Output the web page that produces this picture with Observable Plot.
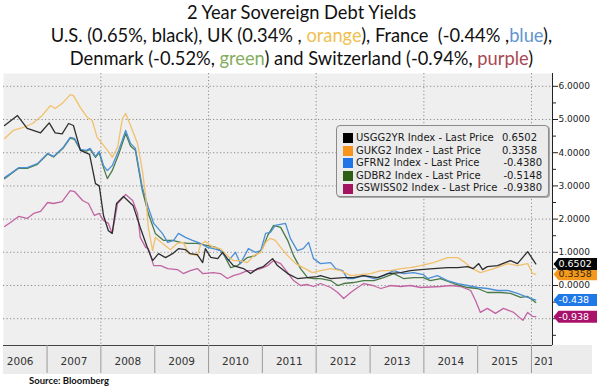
<!DOCTYPE html>
<html><head><meta charset="utf-8">
<script src="https://cdn.jsdelivr.net/npm/d3@7"></script>
<script src="https://cdn.jsdelivr.net/npm/@observablehq/plot@0.6"></script>
<style>
body{margin:0;background:#fff;width:597px;height:387px;overflow:hidden;position:relative;font-family:Lato,sans-serif}
#title{height:72px;text-align:center;line-height:23px;font-size:18.3px;color:#111;padding-left:6px;padding-top:1px;box-sizing:border-box;white-space:nowrap}
#chart{position:absolute;left:0;top:72px}
#legend{position:absolute;left:336px;top:125px;width:213px;height:72px;background:#ebebeb;border:1px solid #8a8a8a;border-radius:4px;box-shadow:1px 1px 0 #aaa;box-sizing:border-box;padding:6px 0 0 6px;font-family:"DejaVu Sans",sans-serif;font-size:10px;color:#1a1a1a}
#legend .row{height:12.6px;line-height:12.6px;display:flex;align-items:center;white-space:nowrap}
#legend .sw{width:10px;height:10px;margin-right:3px;flex:none}
#legend .nm{flex:1}
#legend .vl{text-align:right}
#source{position:absolute;left:29px;top:375px;font-weight:bold;font-size:9.5px;color:#111}
</style></head>
<body>
<div id="title"></div>
<div id="chart"></div>
<div id="legend"></div>
<div id="source">Source: Bloomberg</div>
<script>
// ---- data (decimal year, yield %) ----
const usSeries = [[2006.21,4.82],[2006.45,5.12],[2006.63,4.73],[2006.88,4.6],[2007.04,4.9],[2007.15,4.6],[2007.28,4.57],[2007.40,4.88],[2007.49,4.82],[2007.62,4.07],[2007.79,3.95],[2007.90,3.07],[2007.97,3.0],[2008.05,2.1],[2008.14,1.65],[2008.21,1.57],[2008.29,2.47],[2008.42,2.68],[2008.60,2.4],[2008.73,1.75],[2008.86,1.15],[2008.96,0.75],[2009.07,0.96],[2009.20,0.84],[2009.33,0.96],[2009.44,1.11],[2009.57,1.08],[2009.66,0.96],[2009.79,0.93],[2009.89,0.69],[2009.94,1.11],[2010.04,0.85],[2010.17,0.81],[2010.26,1.0],[2010.35,0.81],[2010.46,0.6],[2010.65,0.51],[2010.78,0.36],[2010.91,0.51],[2011.02,0.57],[2011.19,0.81],[2011.28,0.6],[2011.47,0.36],[2011.65,0.21],[2011.84,0.24],[2012.02,0.27],[2012.08,0.3],[2012.27,0.21],[2012.51,0.24],[2012.69,0.24],[2012.88,0.3],[2013.14,0.24],[2013.33,0.36],[2013.57,0.39],[2013.75,0.45],[2013.94,0.48],[2014.18,0.51],[2014.44,0.54],[2014.63,0.54],[2014.81,0.57],[2014.92,0.51],[2015.02,0.66],[2015.09,0.48],[2015.18,0.57],[2015.37,0.6],[2015.61,0.75],[2015.74,0.66],[2015.93,1.02],[2016.08,0.65]];
const ukSeries = [[2006.21,4.43],[2006.37,4.67],[2006.56,4.76],[2006.73,4.88],[2006.91,5.12],[2007.06,5.42],[2007.15,5.33],[2007.28,5.48],[2007.43,5.75],[2007.49,5.72],[2007.62,5.36],[2007.75,5.06],[2007.84,4.97],[2007.93,4.46],[2008.05,4.22],[2008.18,3.95],[2008.21,3.86],[2008.31,4.16],[2008.40,5.03],[2008.46,5.18],[2008.55,4.82],[2008.68,4.28],[2008.77,3.46],[2008.83,2.71],[2008.88,1.75],[2008.96,1.05],[2009.01,1.45],[2009.14,1.27],[2009.29,1.08],[2009.42,1.27],[2009.53,1.3],[2009.63,0.96],[2009.79,0.9],[2009.85,1.22],[2009.94,1.33],[2010.04,1.2],[2010.09,1.15],[2010.22,1.11],[2010.35,0.9],[2010.46,0.75],[2010.59,0.75],[2010.72,0.69],[2010.84,0.9],[2010.97,1.0],[2011.06,1.3],[2011.15,1.42],[2011.24,1.36],[2011.34,1.15],[2011.47,0.9],[2011.62,0.66],[2011.76,0.54],[2011.93,0.39],[2012.08,0.45],[2012.27,0.51],[2012.45,0.45],[2012.64,0.3],[2012.82,0.33],[2013.01,0.36],[2013.20,0.45],[2013.38,0.45],[2013.57,0.51],[2013.75,0.54],[2013.94,0.6],[2014.18,0.69],[2014.44,0.84],[2014.63,0.84],[2014.74,0.72],[2014.87,0.54],[2015.05,0.39],[2015.30,0.51],[2015.56,0.66],[2015.74,0.6],[2015.93,0.66],[2016.02,0.36],[2016.08,0.34]];
const frSeries = [[2006.21,3.25],[2006.32,3.37],[2006.47,3.55],[2006.63,3.55],[2006.82,3.67],[2007.01,3.98],[2007.12,3.89],[2007.30,4.16],[2007.43,4.46],[2007.51,4.43],[2007.62,4.1],[2007.73,4.07],[2007.80,4.13],[2007.90,3.89],[2007.97,4.04],[2008.05,3.61],[2008.12,3.46],[2008.21,3.61],[2008.33,4.07],[2008.46,4.67],[2008.55,4.28],[2008.64,4.13],[2008.77,2.95],[2008.88,2.35],[2008.98,1.87],[2009.14,1.57],[2009.24,1.3],[2009.35,1.36],[2009.44,1.57],[2009.57,1.45],[2009.70,1.36],[2009.85,1.27],[2009.98,1.15],[2010.09,1.11],[2010.22,1.05],[2010.37,0.75],[2010.50,1.0],[2010.59,0.66],[2010.74,1.11],[2010.87,1.0],[2010.97,1.05],[2011.06,1.57],[2011.15,1.6],[2011.24,1.81],[2011.43,1.87],[2011.52,1.42],[2011.65,1.05],[2011.76,1.11],[2011.86,1.3],[2011.95,0.81],[2012.08,0.66],[2012.27,0.69],[2012.36,0.51],[2012.49,0.45],[2012.58,0.21],[2012.69,0.21],[2012.88,0.3],[2013.07,0.21],[2013.25,0.3],[2013.44,0.45],[2013.62,0.36],[2013.81,0.39],[2013.99,0.33],[2014.07,0.21],[2014.25,0.3],[2014.44,0.15],[2014.63,0.06],[2014.81,0.0],[2015.00,-0.06],[2015.18,-0.09],[2015.37,-0.15],[2015.56,-0.15],[2015.74,-0.24],[2015.93,-0.36],[2016.08,-0.44]];
const dkSeries = [[2006.21,3.22],[2006.32,3.35],[2006.47,3.53],[2006.63,3.53],[2006.82,3.65],[2007.01,3.96],[2007.12,3.87],[2007.30,4.14],[2007.43,4.44],[2007.51,4.4],[2007.62,4.08],[2007.73,4.05],[2007.80,4.1],[2007.90,3.86],[2007.97,4.0],[2008.05,3.55],[2008.12,3.22],[2008.21,3.46],[2008.33,3.95],[2008.46,4.58],[2008.55,4.2],[2008.64,4.07],[2008.77,2.86],[2008.88,2.17],[2009.01,1.57],[2009.16,1.36],[2009.33,1.36],[2009.48,1.3],[2009.61,1.27],[2009.79,1.27],[2009.98,1.2],[2010.13,1.15],[2010.26,1.0],[2010.41,0.54],[2010.54,0.6],[2010.72,0.84],[2010.87,0.9],[2011.00,1.11],[2011.10,1.51],[2011.21,1.81],[2011.34,1.75],[2011.47,1.36],[2011.58,0.9],[2011.71,0.51],[2011.84,0.24],[2011.95,0.21],[2012.08,0.21],[2012.27,0.15],[2012.40,0.0],[2012.51,0.06],[2012.69,0.09],[2012.88,0.15],[2013.07,0.15],[2013.25,0.24],[2013.44,0.36],[2013.62,0.21],[2013.81,0.24],[2013.99,0.24],[2014.12,0.15],[2014.31,0.21],[2014.55,0.06],[2014.81,-0.06],[2015.00,-0.09],[2015.18,-0.21],[2015.43,-0.21],[2015.61,-0.24],[2015.80,-0.36],[2015.93,-0.33],[2016.08,-0.51]];
const chSeries = [[2006.21,1.78],[2006.32,1.9],[2006.47,2.08],[2006.63,2.02],[2006.75,2.17],[2006.88,2.23],[2007.01,2.5],[2007.12,2.47],[2007.28,2.53],[2007.43,2.86],[2007.51,2.83],[2007.66,2.56],[2007.77,2.47],[2007.88,2.11],[2007.97,2.17],[2008.05,1.96],[2008.14,1.87],[2008.21,1.57],[2008.31,2.47],[2008.46,2.74],[2008.59,2.56],[2008.68,2.17],[2008.73,1.45],[2008.83,1.15],[2008.88,1.11],[2008.98,0.6],[2009.11,0.6],[2009.24,0.51],[2009.42,0.48],[2009.53,0.36],[2009.66,0.45],[2009.79,0.51],[2009.89,0.36],[2010.09,0.39],[2010.22,0.36],[2010.35,0.21],[2010.46,0.3],[2010.59,0.36],[2010.72,0.45],[2010.84,0.45],[2010.97,0.51],[2011.10,0.6],[2011.21,0.75],[2011.34,0.66],[2011.47,0.39],[2011.58,0.15],[2011.71,0.0],[2011.84,0.03],[2011.95,-0.03],[2012.08,0.06],[2012.27,-0.06],[2012.40,-0.21],[2012.51,-0.39],[2012.64,-0.21],[2012.77,-0.06],[2012.88,0.06],[2013.05,0.0],[2013.20,-0.09],[2013.38,0.0],[2013.57,-0.03],[2013.75,0.0],[2013.94,-0.06],[2014.31,-0.03],[2014.50,0.0],[2014.68,-0.03],[2014.87,-0.15],[2014.96,-0.45],[2015.05,-0.81],[2015.18,-0.69],[2015.33,-0.84],[2015.48,-0.69],[2015.67,-0.81],[2015.84,-1.05],[2015.93,-0.81],[2016.02,-0.93],[2016.08,-0.94]];

const tickers = ["USGG2YR Index", "GUKG2 Index", "GFRN2 Index", "GDBR2 Index", "GSWISS02 Index"];
const lastPrices = ["0.6502", "0.3358", "-0.4380", "-0.5148", "-0.9380"];
const tagTexts = ["0.6502", "0.3358", "-0.438", "-0.938"];
const tagValues = [0.6502, 0.3358, -0.438, -0.938];
const yTicks = [-1, 0, 1, 2, 3, 4, 5, 6];
const yLabeledTicks = [0, 1, 2, 3, 4, 5, 6];
const yMinorTicks = [-1.5, -0.5, 0.5, 1.5, 2.5, 3.5, 4.5, 5.5];
const yearLabels = [2006, 2007, 2008, 2009, 2010, 2011, 2012, 2013, 2014, 2015, 2016];
const yearGrid = [2008, 2010, 2012, 2014, 2016];

// ---- styles ----
const lineColors = ["#2e2e2e", "#f2c06c", "#4b8fd6", "#4a7a46", "#c264a3"];
const swatchColors = ["#000000", "#f7941d", "#1f74e8", "#2f5f14", "#a3135f"];
const tagBg = ["#050505", "#f39a1e", "#1f78e8", "#a8126a"];
const tagFg = ["#ffffff", "#3a2608", "#ffffff", "#ffffff"];

// title
const tColors = {orange: "#efbf52", blue: "#5f95d0", green: "#86ac5e", purple: "#a84852"};
document.getElementById("title").innerHTML =
  `<div>2 Year Sovereign Debt Yields</div>` +
  `<div>U.S. (0.65%, black), UK (0.34% , <span style="color:${tColors.orange}">orange</span>), France&nbsp; (-0.44% ,<span style="color:${tColors.blue}">blue</span>),</div>` +
  `<div>Denmark (-0.52%, <span style="color:${tColors.green}">green</span>) and Switzerland (-0.94%, <span style="color:${tColors.purple}">purple</span>)</div>`;

// legend
const leg = document.getElementById("legend");
tickers.forEach((t, i) => {
  const row = document.createElement("div");
  row.className = "row";
  const pos = !lastPrices[i].startsWith("-");
  row.innerHTML = `<span class="sw" style="background:${swatchColors[i]}"></span><span class="nm">${t} - Last Price</span><span class="vl" style="padding-right:${pos ? 11 : 6}px">${lastPrices[i]}</span>`;
  leg.appendChild(row);
});

function toDate(t) {
  const y = Math.floor(t);
  const a = Date.UTC(y, 0, 1), b = Date.UTC(y + 1, 0, 1);
  return new Date(a + (t - y) * (b - a));
}
const xStartT = 2006.19, xEndT = 2016.39;
const xEnd = toDate(xEndT);
const yMin = -1.807, yMax = 6.386;

const allSeries = [chSeries, dkSeries, frSeries, ukSeries, usSeries];
const allColors = [lineColors[4], lineColors[3], lineColors[2], lineColors[1], lineColors[0]];

const tags = [0, 1, 2, 3].map(i => ({v: tagValues[i], label: tagTexts[i], bg: tagBg[i], fg: tagFg[i]}));
// draw order: purple, blue, orange, black on top
const tagOrder = [tags[3], tags[2], tags[1], tags[0]];

const tagSymbol = {
  draw(ctx) {
    ctx.moveTo(1, 0); ctx.lineTo(6, -6); ctx.lineTo(50, -6); ctx.lineTo(50, 6); ctx.lineTo(6, 6); ctx.closePath();
  }
};

const yearLabelPos = yearLabels.map(y => ({y, t: y === 2016 ? (2016 + xEndT + 0.2) / 2 : y + 0.5}));

const plot = Plot.plot({
  width: 597,
  height: 303,
  marginLeft: 3,
  marginRight: 45,
  marginTop: 1,
  marginBottom: 30,
  style: {fontFamily: "DejaVu Sans, sans-serif", fontSize: "9px", color: "#222", background: "transparent", overflow: "visible"},
  x: {type: "utc", domain: [toDate(xStartT), xEnd], axis: null},
  y: {domain: [yMin, yMax], axis: null},
  marks: [
    Plot.frame({fill: "#efefef", stroke: "none"}),
    Plot.gridY(yTicks, {stroke: "#8c8c8c", strokeOpacity: 1, strokeDasharray: "1.2,2.3"}),
    Plot.gridX(yearGrid.map(y => toDate(y)), {stroke: "#8c8c8c", strokeOpacity: 1, strokeDasharray: "1.2,2.3"}),
    ...allSeries.map((s, i) => Plot.line(s, {x: d => toDate(d[0]), y: d => d[1], stroke: allColors[i], strokeWidth: 1.3})),
    Plot.ruleY([yMin], {stroke: "#444"}),
    Plot.ruleX([xEnd], {stroke: "#222"}),
    Plot.axisX({ticks: yearLabels.slice(1).map(y => toDate(y)), tickSize: 28, tickFormat: () => "", stroke: "#9a9a9a", label: null}),
    Plot.text(yearLabelPos, {x: d => toDate(d.t), text: d => String(d.y), frameAnchor: "bottom", dy: 19, fontSize: 10.5, fill: "#333"}),
    Plot.axisY({anchor: "right", ticks: yTicks, tickFormat: d => yLabeledTicks.includes(d) ? d.toFixed(4) : "", tickSize: 5, tickPadding: 1, fontSize: 9, color: "#222", label: null}),
    Plot.axisY({anchor: "right", ticks: yMinorTicks, tickFormat: () => "", tickSize: 3, color: "#222", label: null}),
    Plot.dot(tagOrder, {x: () => xEnd, y: "v", symbol: tagSymbol, fill: "bg", stroke: "none"}),
    Plot.text(tagOrder, {x: () => xEnd, y: "v", text: "label", dx: 6, textAnchor: "start", fill: "fg", fontSize: 9.5})
  ]
});
document.getElementById("chart").appendChild(plot);

// year band background & clipping of partial last label
const svg = d3.select(plot);
const xs = plot.scale("x"), ys = plot.scale("y");
const bandTop = ys.apply(yMin);
svg.insert("rect", ":first-child")
  .attr("x", xs.apply(toDate(xStartT))).attr("y", bandTop)
  .attr("width", 592 - xs.apply(toDate(xStartT))).attr("height", 29)
  .attr("fill", "#ececec");
const lastLabel = svg.selectAll("text").filter(function () { return this.textContent === "2016"; });
if (!lastLabel.empty()) {
  const g = lastLabel.node().parentNode;
  const clip = document.createElementNS("http://www.w3.org/2000/svg", "svg");
  clip.setAttribute("x", 0); clip.setAttribute("y", 0);
  clip.setAttribute("width", xs.apply(xEnd)); clip.setAttribute("height", 303);
  clip.setAttribute("overflow", "hidden");
  g.parentNode.insertBefore(clip, g);
  clip.appendChild(g);
}
</script>
</body></html>
